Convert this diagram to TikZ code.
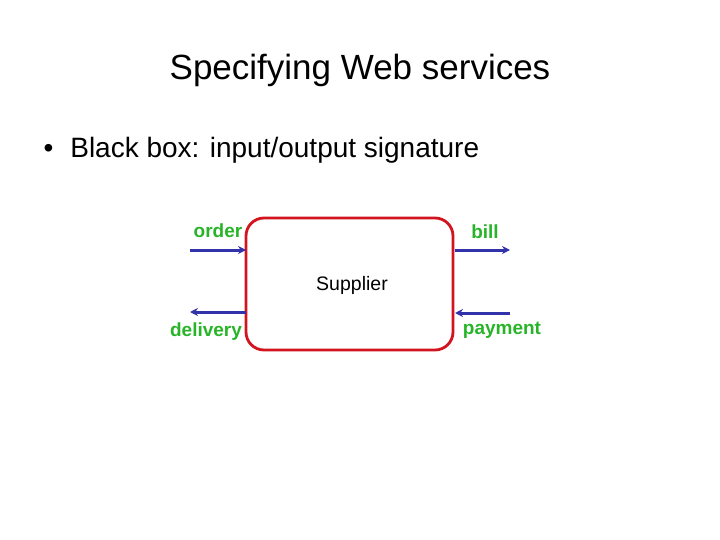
\documentclass[tikz,border=0pt]{standalone}
\usepackage{fontspec}
\setmainfont{Liberation Sans}
\usetikzlibrary{arrows.meta}
\definecolor{lblgreen}{RGB}{40,180,40}
\definecolor{arrblue}{RGB}{50,50,170}
\definecolor{boxred}{RGB}{210,20,30}
\begin{document}
\begin{tikzpicture}[x=1pt,y=-1pt,
  lbl/.style={text=lblgreen,font=\fontsize{19}{22}\selectfont\bfseries,inner sep=0pt},
  flow/.style={draw=arrblue,line width=3pt,-{Stealth[length=8pt,width=8pt]}}]
\useasboundingbox (0,0) rectangle (720,540);
\node (title) at (360,70) {\fontsize{35}{40}\selectfont Specifying Web services};
\node[anchor=west] (bullet) at (40,150) {\fontsize{28}{32}\selectfont •\hspace{17pt}Black box: input/output signature};
\node[draw=boxred,line width=2.8pt,rounded corners=18pt,minimum width=207pt,minimum height=132pt] (box) at (349.5,284) {};
\node (sup) at (352,285) {\fontsize{19.5}{22}\selectfont Supplier};
\coordinate (oin) at (190,250); \coordinate (oend) at (246,250);
\coordinate (bst) at (455,250); \coordinate (bout) at (510,250);
\coordinate (dst) at (246,312); \coordinate (dout) at (190,312);
\coordinate (pin) at (510,313); \coordinate (pend) at (455,313);
\draw[flow] (oin) -- (oend);
\draw[flow] (bst) -- (bout);
\draw[flow] (dst) -- (dout);
\draw[flow] (pin) -- (pend);
\node[lbl] (order) at (218,231) {order};
\node[lbl] (bill) at (485,232) {bill};
\node[lbl] (delivery) at (206,332) {delivery};
\node[lbl] (payment) at (502,330) {payment};
\end{tikzpicture}
\end{document}
